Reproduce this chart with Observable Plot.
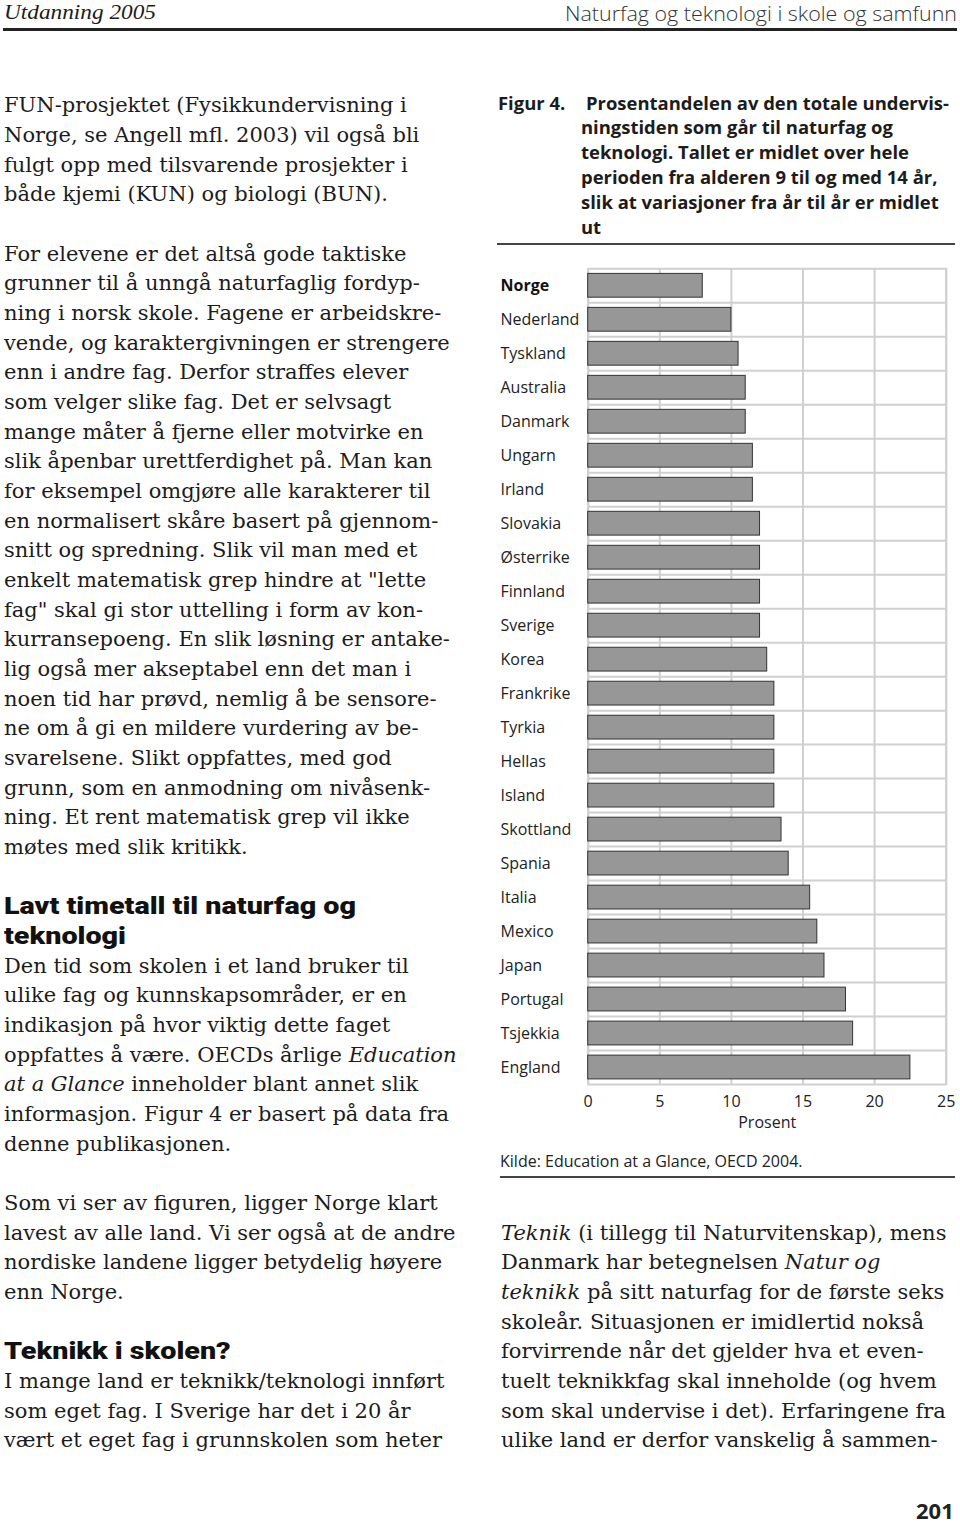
<!DOCTYPE html>
<html><head><meta charset="utf-8">
<script src="https://cdn.jsdelivr.net/npm/d3@7"></script>
<script src="https://cdn.jsdelivr.net/npm/@observablehq/plot@0.6"></script>
<style>
html,body{margin:0;padding:0;background:#fff;}
#page{position:relative;width:960px;height:1525px;overflow:hidden;color:#1c1c1c;}
.ln{position:absolute;white-space:nowrap;}
.serif{font-family:"DejaVu Serif",serif;}
.sans{font-family:"Open Sans","Noto Sans",sans-serif;}
.light{font-family:"Open Sans","Noto Sans",sans-serif;font-weight:300;}
.ital{font-family:"Liberation Serif",serif;font-style:italic;}
.head{font-family:Roboto,"Liberation Sans",sans-serif;font-weight:900;}
.cap{font-family:"Open Sans","Noto Sans",sans-serif;font-weight:700;}
.rule{position:absolute;}
#chart{position:absolute;left:490px;top:250px;}
</style></head>
<body><div id="page"></div>
<script>
// ---- chart data ----
const countries = ["Norge","Nederland","Tyskland","Australia","Danmark","Ungarn","Irland","Slovakia","Østerrike","Finnland","Sverige","Korea","Frankrike","Tyrkia","Hellas","Island","Skottland","Spania","Italia","Mexico","Japan","Portugal","Tsjekkia","England"];
const values = [8, 10, 10.5, 11, 11, 11.5, 11.5, 12, 12, 12, 12, 12.5, 13, 13, 13, 13, 13.5, 14, 15.5, 16, 16.5, 18, 18.5, 22.5];
const xTicks = [0, 5, 10, 15, 20, 25];
const xLabel = "Prosent";
const highlight = "Norge";

// ---- page text ----
const headerLeft = "Utdanning 2005";
const headerRight = "Naturfag og teknologi i skole og samfunn";
const figLabel = "Figur 4.";
const captionLines = [
  "Prosentandelen av den totale undervis-",
  "ningstiden som går til naturfag og",
  "teknologi. Tallet er midlet over hele",
  "perioden fra alderen 9 til og med 14 år,",
  "slik at variasjoner fra år til år er midlet",
  "ut"
];
const source = "Kilde: Education at a Glance, OECD 2004.";
const pageNumber = "201";
// [grid line index, kind, html]; a heading ("h") may hold several lines
const leftCol = [
  [0,"b","FUN-prosjektet (Fysikkundervisning i"],
  [1,"b","Norge, se Angell mfl. 2003) vil også bli"],
  [2,"b","fulgt opp med tilsvarende prosjekter i"],
  [3,"b","både kjemi (KUN) og biologi (BUN)."],
  [5,"b","For elevene er det altså gode taktiske"],
  [6,"b","grunner til å unngå naturfaglig fordyp-"],
  [7,"b","ning i norsk skole. Fagene er arbeidskre-"],
  [8,"b","vende, og karaktergivningen er strengere"],
  [9,"b","enn i andre fag. Derfor straffes elever"],
  [10,"b","som velger slike fag. Det er selvsagt"],
  [11,"b","mange måter å fjerne eller motvirke en"],
  [12,"b","slik åpenbar urettferdighet på. Man kan"],
  [13,"b","for eksempel omgjøre alle karakterer til"],
  [14,"b","en normalisert skåre basert på gjennom-"],
  [15,"b","snitt og spredning. Slik vil man med et"],
  [16,"b","enkelt matematisk grep hindre at \"lette"],
  [17,"b","fag\" skal gi stor uttelling i form av kon-"],
  [18,"b","kurransepoeng. En slik løsning er antake-"],
  [19,"b","lig også mer akseptabel enn det man i"],
  [20,"b","noen tid har prøvd, nemlig å be sensore-"],
  [21,"b","ne om å gi en mildere vurdering av be-"],
  [22,"b","svarelsene. Slikt oppfattes, med god"],
  [23,"b","grunn, som en anmodning om nivåsenk-"],
  [24,"b","ning. Et rent matematisk grep vil ikke"],
  [25,"b","møtes med slik kritikk."],
  [27,"h",["Lavt timetall til naturfag og", "teknologi"]],
  [29,"b","Den tid som skolen i et land bruker til"],
  [30,"b","ulike fag og kunnskapsområder, er en"],
  [31,"b","indikasjon på hvor viktig dette faget"],
  [32,"b","oppfattes å være. OECDs årlige <i>Education</i>"],
  [33,"b","<i>at a Glance</i> inneholder blant annet slik"],
  [34,"b","informasjon. Figur 4 er basert på data fra"],
  [35,"b","denne publikasjonen."],
  [37,"b","Som vi ser av figuren, ligger Norge klart"],
  [38,"b","lavest av alle land. Vi ser også at de andre"],
  [39,"b","nordiske landene ligger betydelig høyere"],
  [40,"b","enn Norge."],
  [42,"h",["Teknikk i skolen?"]],
  [43,"b","I mange land er teknikk/teknologi innført"],
  [44,"b","som eget fag. I Sverige har det i 20 år"],
  [45,"b","vært et eget fag i grunnskolen som heter"]
];
const rightCol = [
  [38,"b","<i>Teknik</i> (i tillegg til Naturvitenskap), mens"],
  [39,"b","Danmark har betegnelsen <i>Natur og</i>"],
  [40,"b","<i>teknikk</i> på sitt naturfag for de første seks"],
  [41,"b","skoleår. Situasjonen er imidlertid nokså"],
  [42,"b","forvirrende når det gjelder hva et even-"],
  [43,"b","tuelt teknikkfag skal inneholde (og hvem"],
  [44,"b","som skal undervise i det). Erfaringene fra"],
  [45,"b","ulike land er derfor vanskelig å sammen-"]
];

const page = document.getElementById("page");

function measure(cls, html, size) {
  const s = document.createElement("span");
  s.className = "ln " + cls;
  s.style.fontSize = size + "px";
  s.innerHTML = html;
  page.appendChild(s);
  const w = s.getBoundingClientRect().width;
  s.remove();
  return w;
}
function fitSize(cls, html, target, base) {
  return base * target / measure(cls, html, base);
}
function block(cls, html, x, top, size, lh, nLines, extra) {
  const d = document.createElement("div");
  d.className = "ln " + cls;
  d.style.fontSize = size + "px";
  d.style.lineHeight = lh + "px";
  d.style.height = (lh * nLines) + "px";
  d.style.left = x + "px";
  d.style.top = top + "px";
  d.innerHTML = html;
  if (extra) Object.assign(d.style, extra);
  page.appendChild(d);
  return d;
}
function line(cls, html, x, cy, size, lh, extra) {
  return block(cls, html, x, cy - lh / 2, size, lh, 1, extra);
}
function rule(x1, x2, y, th, color) {
  const r = document.createElement("div");
  r.className = "rule";
  Object.assign(r.style, {left: x1 + "px", width: (x2 - x1) + "px", top: (y - th / 2) + "px", height: th + "px", background: color});
  page.appendChild(r);
}

// header
const hlW = measure("ital", headerLeft, 21);
line("ital", headerLeft, 4, 12.5, 21, 25, {transformOrigin: "left center", transform: "scaleX(" + (152 / hlW) + ")"});
const hrW = measure("light", headerRight, 20);
line("light", headerRight, 565, 13.8, 20, 27.6, {transformOrigin: "left center", transform: "scaleX(" + (392 / hrW) + ")", color: "#333"});
rule(3, 957, 29.5, 2.5, "#222");

// body text
const pitch = 29.67, y0 = 105;
const bodySize = fitSize("serif", leftCol[0][2], 403, 20);
const headSize = 23.5;
const headScale = 352 / measure("head", "Lavt timetall til naturfag og", headSize);
function placeCol(col, x) {
  for (const [n, kind, content] of col) {
    const cy = y0 + n * pitch;
    if (kind === "h") content.forEach((t, k) => line("head", t, x, cy + k * pitch, headSize, 26,
      {color: "#111", transformOrigin: "left center", transform: "scaleX(" + headScale + ")"}));
    else line("serif", content, x, cy, bodySize, pitch);
  }
}
placeCol(leftCol, 4);
placeCol(rightCol, 501);

// caption
const capSize = fitSize("cap", captionLines[0], 363, 17);
line("cap", figLabel, 498, 103, capSize, 24.8);
line("cap", captionLines[0], 586, 103, capSize, 24.8);
block("cap", captionLines.slice(1).join("<br>"), 581, 103 + 24.8 - 12.4, capSize, 24.8, captionLines.length - 1);
rule(497, 955, 244, 2, "#444");

// source
line("sans", source, 500, 1161, 16, 22, {color: "#222"});
rule(500, 955, 1177, 2, "#444");

// page number
line("cap", pageNumber, 916, 1509.5, 22, 30, {color: "#222"});

// ---- chart ----
const W = 470, H = 890, mL = 97.7, mR = 14.3, mT = 18.3, mB = 56;
const step = (H - mT - mB) / countries.length;
const table = countries.map((c, i) => ({country: c, value: values[i]}));
const grid = {stroke: "#d0d0d0", strokeWidth: 2, strokeOpacity: 1};
const chart = Plot.plot({
  width: W, height: H, marginLeft: mL, marginRight: mR, marginTop: mT, marginBottom: mB,
  style: {fontFamily: '"Open Sans", sans-serif', fontSize: "16px", color: "#222", background: "transparent", overflow: "visible"},
  x: {domain: [0, 25], axis: null},
  y: {domain: countries, paddingInner: 0.3, paddingOuter: 0.15, round: false, axis: null},
  marks: [
    Plot.ruleX(xTicks, {x: d => d, ...grid}),
    Plot.ruleY(countries.slice(1), {y: d => d, dy: -step / 2, ...grid}),
    Plot.frame(grid),
    Plot.barX(table, {x: "value", y: "country", fill: "#979797", stroke: "#333", strokeWidth: 1}),
    Plot.text(table, {filter: d => d.country !== highlight, y: "country", text: "country", frameAnchor: "left", textAnchor: "start", dx: -(mL - 10), fill: "#222"}),
    Plot.text(table, {filter: d => d.country === highlight, y: "country", text: "country", frameAnchor: "left", textAnchor: "start", dx: -(mL - 10), fill: "#111", fontWeight: "bold"}),
    Plot.axisX(xTicks, {tickSize: 0, tickPadding: 11, fontSize: 16, label: null, tickFormat: d => String(d)}),
    Plot.text([xLabel], {text: d => d, frameAnchor: "bottom", dy: 43, fill: "#222"})
  ]
});
const holder = document.createElement("div");
holder.id = "chart";
holder.appendChild(chart);
page.appendChild(holder);
</script>
</body></html>
